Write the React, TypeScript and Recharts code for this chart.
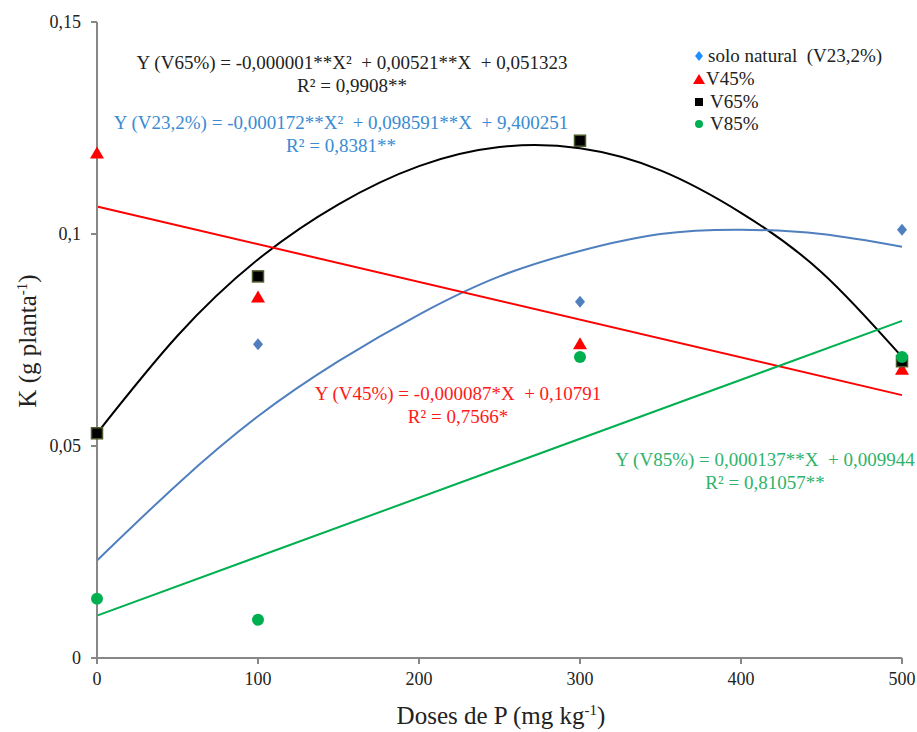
import React from "react";
import { ComposedChart, Line, Scatter, XAxis, YAxis } from "recharts";

// observed K per dose of P
const doses = [0, 100, 300, 500];
const soloNatural = [0.053, 0.074, 0.084, 0.101];
const v45 = [0.119, 0.085, 0.074, 0.068];
const v65 = [0.053, 0.09, 0.122, 0.07];
const v85 = [0.014, 0.009, 0.071, 0.071];

// fitted trend curves, read every 50 mg
const curveX = [0, 50, 100, 150, 200, 250, 300, 350, 400, 450, 500];
const fitV23 = [0.023, 0.041, 0.057, 0.07, 0.081, 0.09, 0.096, 0.1, 0.101, 0.1, 0.097];
const fitV65 = [0.053, 0.076, 0.094, 0.107, 0.116, 0.1205, 0.1202, 0.115, 0.105, 0.091, 0.071];
const lineX = [0, 500];
const fitV45 = [0.1065, 0.062];
const fitV85 = [0.01, 0.0795];

const xTicks = [0, 100, 200, 300, 400, 500];
const yTicks = [0, 0.05, 0.1, 0.15];

const C_BLUE = "#4f7fbe";
const C_RED = "#ff0000";
const C_BLACK = "#000000";
const C_GREEN = "#00b050";
const AXIS = "#878787";
const FONT = "Liberation Serif";

const pts = (xs: number[], ys: number[]) => xs.map((x, i) => ({ x, y: ys[i] }));

const Diamond = (p: any) => (
  <polygon
    points={`${p.cx},${p.cy - 6} ${p.cx + 5},${p.cy} ${p.cx},${p.cy + 6} ${p.cx - 5},${p.cy}`}
    fill={C_BLUE}
  />
);
const Triangle = (p: any) => (
  <polygon
    points={`${p.cx},${p.cy - 7} ${p.cx + 7},${p.cy + 5} ${p.cx - 7},${p.cy + 5}`}
    fill={C_RED}
  />
);
const Square = (p: any) => (
  <rect x={p.cx - 5.5} y={p.cy - 5.5} width={11} height={11} fill={C_BLACK} stroke="#4b5a2b" strokeWidth={1.5} />
);
const Dot = (p: any) => <circle cx={p.cx} cy={p.cy} r={6} fill={C_GREEN} />;

const fmtY = (v: number) => (v === 0 ? "0" : String(v).replace(".", ","));

const eqStyle = (x: number, y: number, color: string): React.CSSProperties => ({
  position: "absolute",
  left: x,
  top: y,
  transform: "translateX(-50%)",
  color,
  fontFamily: FONT,
  fontSize: 19,
  lineHeight: "23px",
  textAlign: "center",
  whiteSpace: "nowrap",
});

const legendRow = (top: number, gap: number, marker: React.ReactNode, text: string) => (
  <div style={{ position: "absolute", left: 692, top, display: "flex", alignItems: "center", whiteSpace: "pre" }}>
    <svg width={14} height={14} style={{ marginRight: gap }}>{marker}</svg>
    <span>{text}</span>
  </div>
);

const tickStyle = { fill: "#222", fontSize: 18, fontFamily: FONT };

const supStyle: React.CSSProperties = {
  fontSize: 15,
  lineHeight: 0,
  verticalAlign: "baseline",
  position: "relative",
  top: "-0.6em",
};

const titleStyle: React.CSSProperties = {
  position: "absolute",
  fontFamily: FONT,
  fontSize: 25,
  lineHeight: "28px",
  whiteSpace: "nowrap",
  color: "#222",
};

export default function App() {
  return (
    <div style={{ position: "relative", width: 917, height: 732, fontFamily: FONT, background: "#fff" }}>
      <style>{`body{margin:0}`}</style>
      <ComposedChart
        width={917}
        height={732}
        margin={{ top: 22, right: 15, bottom: 0, left: 0 }}
        style={{ fontFamily: FONT }}
      >
        <XAxis
          dataKey="x"
          type="number"
          domain={[0, 500]}
          ticks={xTicks}
          height={74}
          stroke={AXIS}
          strokeWidth={2}
          tickSize={6}
          tickMargin={8}
          tick={tickStyle}
        />
        <YAxis
          type="number"
          domain={[0, 0.15]}
          ticks={yTicks}
          width={97}
          stroke={AXIS}
          strokeWidth={2}
          tickSize={6}
          tickMargin={10}
          tickFormatter={fmtY}
          tick={tickStyle}
        />
        <Line data={pts(curveX, fitV65)} dataKey="y" type="natural" stroke={C_BLACK} strokeWidth={2} dot={false} isAnimationActive={false} />
        <Line data={pts(curveX, fitV23)} dataKey="y" type="natural" stroke={C_BLUE} strokeWidth={2} dot={false} isAnimationActive={false} />
        <Line data={pts(lineX, fitV45)} dataKey="y" type="linear" stroke={C_RED} strokeWidth={2} dot={false} isAnimationActive={false} />
        <Line data={pts(lineX, fitV85)} dataKey="y" type="linear" stroke={C_GREEN} strokeWidth={2} dot={false} isAnimationActive={false} />
        <Scatter data={pts(doses, soloNatural)} dataKey="y" shape={Diamond} isAnimationActive={false} />
        <Scatter data={pts(doses, v45)} dataKey="y" shape={Triangle} isAnimationActive={false} />
        <Scatter data={pts(doses, v65)} dataKey="y" shape={Square} isAnimationActive={false} />
        <Scatter data={pts(doses, v85)} dataKey="y" shape={Dot} isAnimationActive={false} />
      </ComposedChart>

      <div style={{ ...titleStyle, left: 501, top: 702, transform: "translateX(-50%)" }}>
        Doses de P (mg kg<sup style={supStyle}>-1</sup>)
      </div>
      <div style={{ ...titleStyle, left: 28, top: 341, transform: "translate(-50%, -50%) rotate(-90deg)" }}>
        K (g planta<sup style={supStyle}>-1</sup>)
      </div>

      <div style={eqStyle(352, 51, "#222")}>
        Y (V65%) = -0,000001**X² &nbsp;+ 0,00521**X &nbsp;+ 0,051323
        <br />
        R² = 0,9908**
      </div>
      <div style={eqStyle(341, 111, "#3a8bd2")}>
        Y (V23,2%) = -0,000172**X² &nbsp;+ 0,098591**X &nbsp;+ 9,400251
        <br />
        R² = 0,8381**
      </div>
      <div style={eqStyle(458, 382, "#ff1a1a")}>
        Y (V45%) = -0,000087*X &nbsp;+ 0,10791
        <br />
        R² = 0,7566*
      </div>
      <div style={eqStyle(765, 448, "#2fb36a")}>
        Y (V85%) = 0,000137**X &nbsp;+ 0,009944
        <br />
        R² = 0,81057**
      </div>

      <div style={{ fontFamily: FONT, fontSize: 19, color: "#222" }}>
        {legendRow(45, 2, <polygon points="7,2 11,7 7,12 3,7" fill="#1e90ff" />, "solo natural  (V23,2%)")}
        {legendRow(68, 0, <polygon points="7,2 13,12 1,12" fill={C_RED} />, "V45%")}
        {legendRow(91, 4, <rect x={3} y={3} width={8} height={8} fill={C_BLACK} />, "V65%")}
        {legendRow(113, 4, <circle cx={7} cy={7} r={4} fill={C_GREEN} />, "V85%")}
      </div>
    </div>
  );
}
